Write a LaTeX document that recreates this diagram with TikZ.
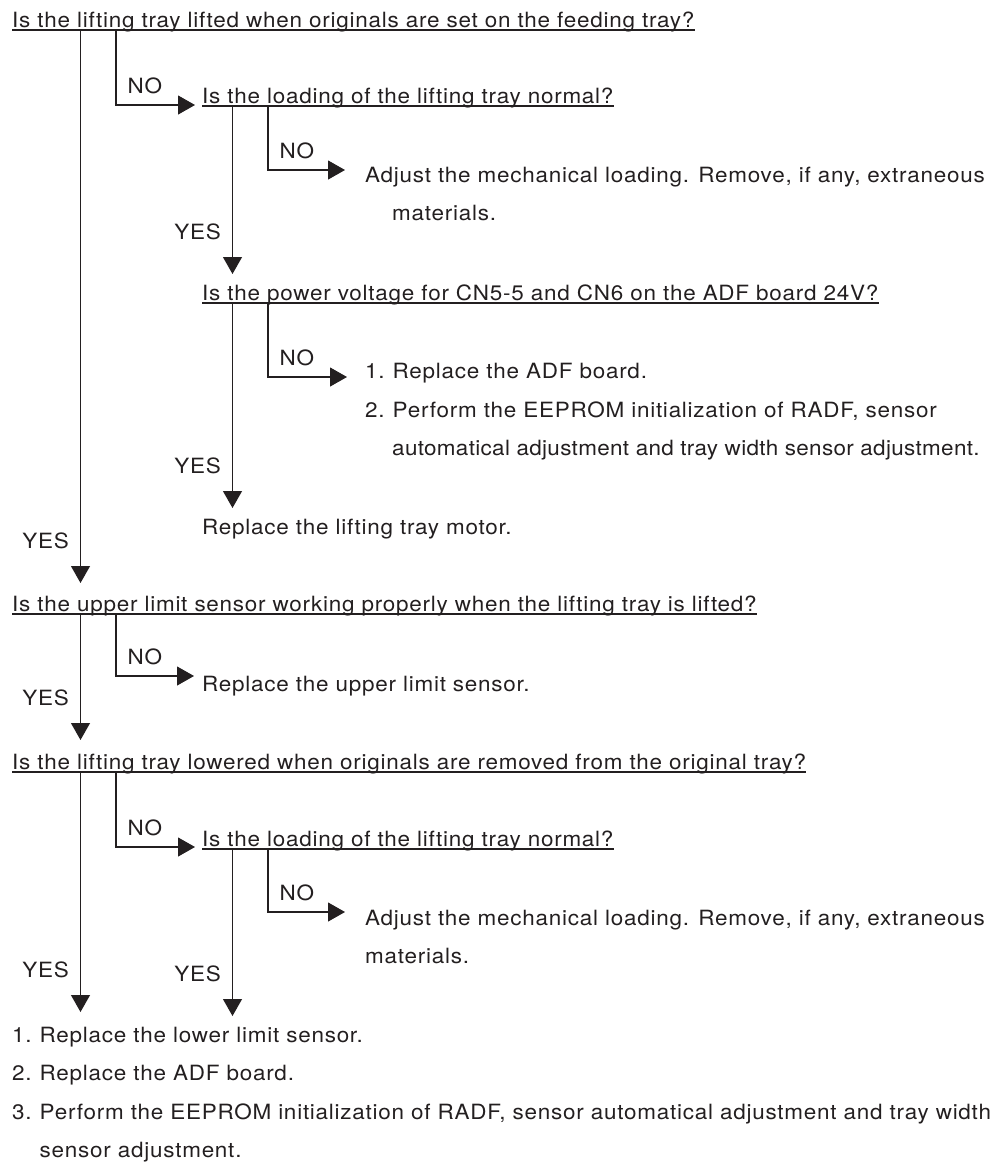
\documentclass[tikz,border=0pt]{standalone}
\usepackage{fontspec}
\setmainfont{TeX Gyre Heros}[FakeStretch=1.07,LetterSpace=3.6]
\usepackage{xcolor}
\usepackage{tikz}
\usetikzlibrary{arrows.meta,calc}
\definecolor{ink}{HTML}{231F20}
\newcommand{\itemno}[1]{\makebox[27.5pt][l]{#1}}
\tikzset{
  txt/.style={anchor=base west,inner sep=0pt,text=ink,font=\fontsize{21}{25}\selectfont},
  quest/.style={txt},                                   % question, underlined later
  tight/.style={font=\fontsize{21}{25}\selectfont\addfontfeature{LetterSpace=1.5}},
  flow/.style={-{Triangle[length=17pt,width=19pt]},line width=1.1pt,draw=ink},
  uline/.style={line width=1.1pt,draw=ink},
  nolbl/.style={txt,xshift=11pt,yshift=12pt},           % "NO" sits over the corner
  yeslbl/.style={txt,anchor=base east,xshift=-11pt,yshift=35pt},
}
\begin{document}
\begin{tikzpicture}[x=1pt,y=-1pt]
  \useasboundingbox (0,0) rectangle (992,1163);
  % columns of the connectors
  \coordinate (colA) at (80.5,0);
  \coordinate (colB) at (116,0);
  \coordinate (colC) at (232.5,0);
  \coordinate (colD) at (268,0);

  \node[quest] (q1) at (12,27) {Is the lifting tray lifted when originals are set on the feeding tray?};
  \node[quest] (q2) at (202,103) {Is the loading of the lifting tray normal?};
  \node[txt] (a1) at (365,182) {Adjust the mechanical loading. Remove, if any, extraneous};
  \node[txt] (a1b) at (392,220) {materials.};
  \node[quest] (q3) at (202,300) {Is the power voltage for CN5-5 and CN6 on the ADF board 24V?};
  \node[txt] (r1) at (365,378) {\itemno{1.}Replace the ADF board.};
  \node[txt] (r2) at (365,417) {\itemno{2.}Perform the EEPROM initialization of RADF, sensor};
  \node[txt,tight] (r2b) at (392,455) {automatical adjustment and tray width sensor adjustment.};
  \node[txt] (m1) at (202,534) {Replace the lifting tray motor.};
  \node[quest] (q4) at (12,611) {Is the upper limit sensor working properly when the lifting tray is lifted?};
  \node[txt] (s1) at (202,691) {Replace the upper limit sensor.};
  \node[quest] (q5) at (12,769) {Is the lifting tray lowered when originals are removed from the original tray?};
  \node[quest] (q6) at (202,846) {Is the loading of the lifting tray normal?};
  \node[txt] (a2) at (365,925) {Adjust the mechanical loading. Remove, if any, extraneous};
  \node[txt] (a2b) at (365,963) {materials.};
  \node[txt] (f1) at (12,1042) {\itemno{1.}Replace the lower limit sensor.};
  \node[txt] (f2) at (12,1080) {\itemno{2.}Replace the ADF board.};
  \node[txt] (f3) at (12,1119) {\itemno{3.}Perform the EEPROM initialization of RADF, sensor automatical adjustment and tray width};
  \node[txt] (f3b) at (39.5,1157) {sensor adjustment.};

  \foreach \q in {q1,q2,q3,q4,q5,q6}{
    \coordinate (\q u) at ([yshift=-3pt]\q.base west);
    \draw[uline] (\q u) -- ([yshift=-3pt]\q.base east);
  }

  % YES branches
  \draw[flow] (q1u -| colA) -- node[yeslbl,pos=1]{YES} ([yshift=28pt]q4.base west -| colA);
  \draw[flow] (q2u -| colC) -- node[yeslbl,pos=1]{YES} ([yshift=26pt]q3.base west -| colC);
  \draw[flow] (q3u -| colC) -- node[yeslbl,pos=1]{YES} ([yshift=26pt]m1.base west -| colC);
  \draw[flow] (q4u -| colA) -- node[yeslbl,pos=1]{YES} ([yshift=29pt]q5.base west -| colA);
  \draw[flow] (q5u -| colA) -- node[yeslbl,pos=1]{YES} ([yshift=30pt]f1.base west -| colA);
  \draw[flow] (q6u -| colC) -- node[yeslbl,pos=1]{YES} ([yshift=26pt]f1.base west -| colC);

  % NO branches
  \draw[flow] (q1u -| colB) |- node[nolbl]{NO} ([xshift=-7pt,yshift=-2pt]q2.base west);
  \draw[flow] (q2u -| colD) |- node[nolbl]{NO} ([xshift=-20pt,yshift=12pt]a1.base west);
  \draw[flow] (q3u -| colD) |- node[nolbl]{NO} ([xshift=-18pt,yshift=1pt]r1.base west);
  \draw[flow] (q4u -| colB) |- node[nolbl]{NO} ([xshift=-8pt,yshift=15pt]s1.base west);
  \draw[flow] (q5u -| colB) |- node[nolbl]{NO} ([xshift=-7pt,yshift=-1pt]q6.base west);
  \draw[flow] (q6u -| colD) |- node[nolbl]{NO} ([xshift=-20pt,yshift=13pt]a2.base west);
\end{tikzpicture}
\end{document}
